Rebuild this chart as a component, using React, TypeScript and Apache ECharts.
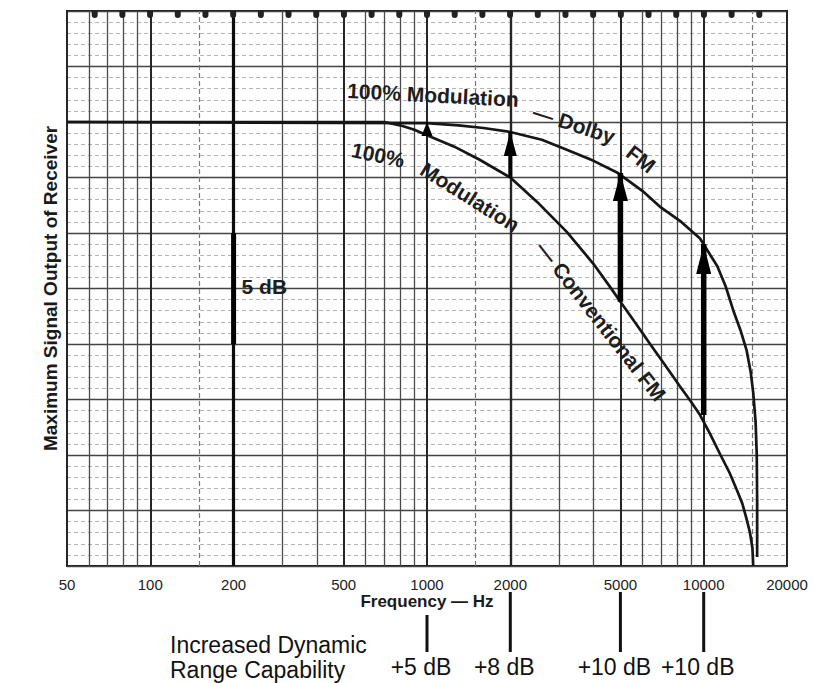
import React, { useEffect, useRef } from "react";
import * as echarts from "echarts";

// ---- data ----
const xTickValues = [50, 100, 200, 500, 1000, 2000, 5000, 10000, 20000];
const xMinorGrid = [60, 70, 80, 90, 300, 400, 600, 700, 800, 900, 3000, 4000, 6000, 7000, 8000, 9000];
const xDashedGrid = [150, 1500, 15000];

const dolbyFreq = [50, 1000, 1300, 1600, 2000, 2600, 3200, 4000, 4900, 6000, 7000, 8300, 9700, 11200, 12000, 12800, 13600, 14300, 14800, 15100, 15400, 15550, 15600, 15600];
const dolbyDb = [0, -0.05, -0.15, -0.27, -0.45, -0.8, -1.25, -1.75, -2.3, -3.1, -3.85, -4.5, -5.25, -6.5, -7.4, -8.5, -9.4, -10.3, -11.3, -12.2, -13.5, -15, -17, -19.6];

const convFreq = [50, 700, 800, 900, 1000, 1250, 1550, 2000, 2500, 3200, 4000, 4600, 5000, 5700, 6400, 7300, 8200, 9000, 9700, 10500, 11500, 12400, 13200, 13800, 14300, 14700, 15000, 15100];
const convDb = [0, 0, -0.15, -0.35, -0.6, -1.1, -1.7, -2.5, -3.6, -4.95, -6.4, -7.45, -8.1, -9.1, -10, -11, -11.9, -12.6, -13.2, -14, -15, -15.8, -16.6, -17.2, -17.9, -18.5, -19.2, -20];

const arrowFreq = [1000, 2000, 5000, 10000];
const arrowFromDb = [-0.6, -2.5, -8.1, -13.2];
const arrowToDb = [0, -0.45, -2.3, -5.5];
const gainLabels = ["+5 dB", "+8 dB", "+10 dB", "+10 dB"];

const scaleBarFreq = 200;
const scaleBarDb = [-5, -10];

// ---- styles (kept apart from data) ----
const arrowHead = [[11, 14], [13, 24], [15, 28], [15, 30]];
const arrowShaft = [2, 4, 5.5, 5.5];
const FONT = "Liberation Sans, Arial, Helvetica, sans-serif";
const INK = "#161616";

export default function App() {
  const ref = useRef<HTMLDivElement>(null);

  useEffect(() => {
    if (!ref.current) return;
    const chart = echarts.init(ref.current, null, { renderer: "svg" });

    const gridLines: any[] = [];
    xTickValues.forEach((v) =>
      gridLines.push({
        xAxis: v,
        lineStyle: { color: v === 200 ? "#0c0c0c" : "#262626", width: v === 200 ? 3.2 : v === 2000 ? 2.4 : 2, type: "solid" },
      })
    );
    xMinorGrid.forEach((v) => gridLines.push({ xAxis: v, lineStyle: { color: "#4a4a4a", width: 1.3, type: "solid" } }));
    xDashedGrid.forEach((v) => gridLines.push({ xAxis: v, lineStyle: { color: "#777", width: 1.2, type: [5, 3] } }));

    const series: any[] = [
      {
        name: "grid",
        type: "line",
        data: [],
        silent: true,
        z: 1,
        markLine: {
          silent: true,
          z: 1,
          symbol: ["none", "none"],
          label: { show: false },
          emphasis: { disabled: true },
          data: gridLines,
        },
      },
      {
        name: "100% Modulation — Dolby FM",
        type: "line",
        z: 5,
        symbol: "none",
        smooth: false,
        lineStyle: { color: INK, width: 2.7 },
        data: dolbyFreq.map((f, i) => [f, dolbyDb[i]]),
      },
      {
        name: "100% Modulation — Conventional FM",
        type: "line",
        z: 5,
        symbol: "none",
        smooth: false,
        lineStyle: { color: INK, width: 2.7 },
        data: convFreq.map((f, i) => [f, convDb[i]]),
      },
      {
        name: "5 dB",
        type: "line",
        z: 6,
        symbol: "none",
        lineStyle: { color: "#000", width: 5 },
        data: scaleBarDb.map((d) => [scaleBarFreq, d]),
      },
    ];

    arrowFreq.forEach((f, i) => {
      const [w, h] = arrowHead[i];
      series.push({
        name: "arrow" + i,
        type: "line",
        z: 7,
        lineStyle: { color: "#000", width: arrowShaft[i] },
        itemStyle: { color: "#000" },
        data: [
          { value: [f, arrowFromDb[i]], symbol: "none" },
          { value: [f, arrowToDb[i]], symbol: "triangle", symbolSize: [w, h], symbolOffset: [0, h / 2] },
        ],
      });
    });

    const option: any = {
      animation: false,
      backgroundColor: "#ffffff",
      grid: { left: 67, right: 28, top: 11, bottom: 117, show: true, borderColor: "#1a1a1a", borderWidth: 2 },
      xAxis: {
        type: "log",
        logBase: 10,
        min: 50,
        max: 20000,
        axisLine: { show: false },
        axisTick: { show: false },
        axisLabel: { show: false },
        splitLine: { show: false },
        name: "Frequency — Hz",
        nameLocation: "middle",
        nameGap: 27,
        nameTextStyle: { fontFamily: FONT, fontWeight: "bold", fontSize: 17, color: "#1a1a1a" },
      },
      yAxis: {
        type: "value",
        min: -20,
        max: 5,
        interval: 2.5,
        axisLine: { show: false },
        axisTick: { show: false },
        axisLabel: { show: false },
        splitLine: { show: true, lineStyle: { color: "#444", width: 1.4 } },
        minorTick: { show: false, splitNumber: 5 },
        minorSplitLine: { show: true, lineStyle: { color: "#b5b5b5", width: 1, type: [4, 3] } },
        name: "Maximum Signal Output of Receiver",
        nameLocation: "middle",
        nameGap: 7,
        nameTextStyle: { fontFamily: FONT, fontWeight: "bold", fontSize: 19, color: "#1a1a1a" },
      },
      series,
    };
    chart.setOption(option);

    const px = (v: number) => chart.convertToPixel({ xAxisIndex: 0 }, v) as number;
    const py = (v: number) => chart.convertToPixel({ yAxisIndex: 0 }, v) as number;
    const left = px(50);
    const right = px(20000);
    const top = py(5);
    const bottom = py(-20);

    const g: any[] = [];
    // perforation marks along the top border
    const step = (right - left) / 26;
    for (let k = 1; k < 26; k++) {
      g.push({
        type: "rect",
        silent: true,
        shape: { x: left + k * step - 3, y: top, width: 6, height: 7, r: [0, 0, 3, 3] },
        style: { fill: "#222" },
        z: 10,
      });
    }
    // tick labels
    xTickValues.forEach((v) =>
      g.push({
        type: "text",
        x: px(v),
        y: bottom + 18,
        style: { text: String(v), font: `15px ${FONT}`, fill: "#222", align: "center", verticalAlign: "middle" },
      })
    );
    // curve annotations
    const lbl = (text: string, x: number, y: number, deg: number) => ({
      type: "text",
      x,
      y,
      rotation: (-deg * Math.PI) / 180,
      z: 20,
      style: { text, font: `bold 21px ${FONT}`, fill: "#1e1e1e", align: "center", verticalAlign: "middle" },
    });
    g.push(lbl("100% Modulation", 433, 95, 3));
    g.push(lbl("— Dolby", 574, 124, 18));
    g.push(lbl("FM", 641, 159, 38));
    g.push(lbl("100%", 378, 155, 12));
    g.push(lbl("Modulation", 470, 197, 32));
    g.push(lbl("— Conventional FM", 601, 321, 52));
    // 5 dB scale label
    g.push({
      type: "text",
      x: px(scaleBarFreq) + 8,
      y: py((scaleBarDb[0] + scaleBarDb[1]) / 2) - 2,
      z: 20,
      style: { text: "5 dB", font: `bold 21px ${FONT}`, fill: "#1e1e1e", align: "left", verticalAlign: "middle" },
    });
    // bottom annotation
    g.push({
      type: "text",
      x: 170,
      y: 645,
      style: { text: "Increased Dynamic", font: `23px ${FONT}`, fill: "#111", align: "left", verticalAlign: "middle" },
    });
    g.push({
      type: "text",
      x: 170,
      y: 670,
      style: { text: "Range Capability", font: `23px ${FONT}`, fill: "#111", align: "left", verticalAlign: "middle" },
    });
    arrowFreq.forEach((f, i) => {
      const x = px(f);
      g.push({
        type: "line",
        shape: { x1: x, y1: i === 0 ? 615 : 592, x2: x, y2: 652 },
        style: { stroke: "#111", lineWidth: 3 },
      });
      g.push({
        type: "text",
        x: x - 6,
        y: 667,
        style: { text: gainLabels[i], font: `23px ${FONT}`, fill: "#111", align: "center", verticalAlign: "middle" },
      });
    });
    chart.setOption({ graphic: g });

    return () => chart.dispose();
  }, []);

  return <div ref={ref} style={{ position: "fixed", left: 0, top: 0, width: 815, height: 683 }} />;
}
